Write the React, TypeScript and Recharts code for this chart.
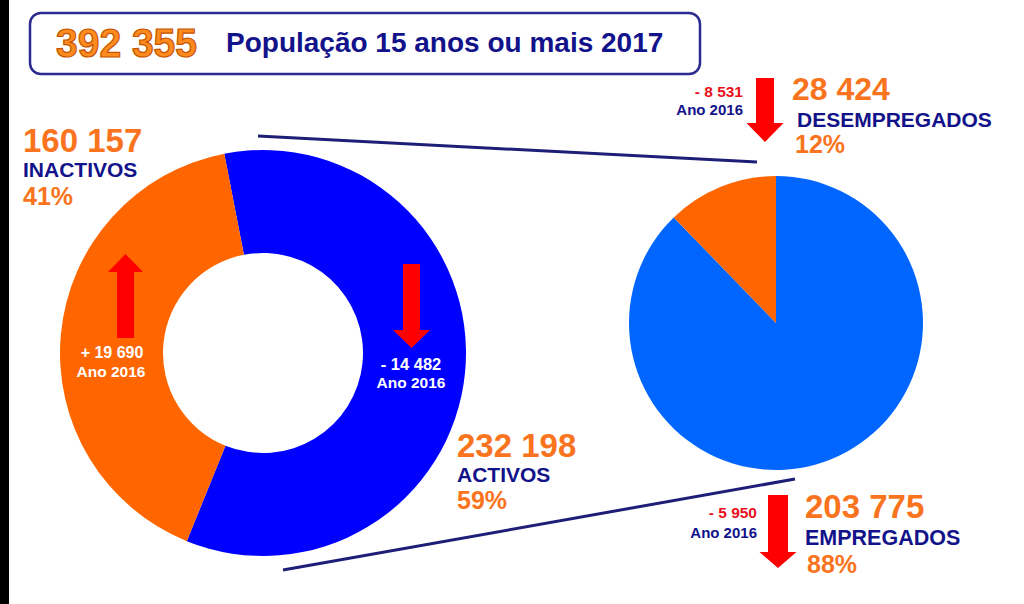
import React from 'react';
import { PieChart, Pie, Cell } from 'recharts';

const totalLabel = '392 355';
const titleText = 'População 15 anos ou mais 2017';

const popCategories = ['ACTIVOS', 'INACTIVOS'];
const popValues = [232198, 160157];
const popLabels = ['232 198', '160 157'];
const popPercents = ['59%', '41%'];
const popChanges = ['- 14 482', '+ 19 690'];

const actCategories = ['EMPREGADOS', 'DESEMPREGADOS'];
const actValues = [203775, 28424];
const actLabels = ['203 775', '28 424'];
const actPercents = ['88%', '12%'];
const actChanges = ['- 5 950', '- 8 531'];

const yearLabel = 'Ano 2016';

const popData = popCategories.map((name, i) => ({ name, value: popValues[i] }));
const actData = actCategories.map((name, i) => ({ name, value: actValues[i] }));

const popColors = ['#0000FF', '#FF6600'];
const actColors = ['#0066FF', '#FF6600'];

const FONT = '"Liberation Sans", Arial, sans-serif';
const NAVY = '#12128A';
const ORANGE = '#FA7420';
const RED = '#FF0000';

function downArrow(x: number, top: number, shaftW: number, headW: number, headTop: number, tip: number) {
  const l = x - shaftW / 2, r = x + shaftW / 2, hl = x - headW / 2, hr = x + headW / 2;
  return `${l},${top} ${r},${top} ${r},${headTop} ${hr},${headTop} ${x},${tip} ${hl},${headTop} ${l},${headTop}`;
}
function upArrow(x: number, bottom: number, shaftW: number, headW: number, headBase: number, tip: number) {
  const l = x - shaftW / 2, r = x + shaftW / 2, hl = x - headW / 2, hr = x + headW / 2;
  return `${l},${bottom} ${r},${bottom} ${r},${headBase} ${hr},${headBase} ${x},${tip} ${hl},${headBase} ${l},${headBase}`;
}

export default function App() {
  return (
    <div style={{ position: 'absolute', left: 0, top: 0, width: 1024, height: 604, background: '#fff', overflow: 'hidden' }}>
      <PieChart width={1024} height={604} margin={{ top: 0, right: 0, bottom: 0, left: 0 }}>
        <Pie
          data={popData}
          dataKey="value"
          nameKey="name"
          cx={263}
          cy={353}
          innerRadius={100}
          outerRadius={203}
          startAngle={101}
          endAngle={-259}
          stroke="none"
          isAnimationActive={false}
        >
          {popData.map((d, i) => (
            <Cell key={d.name} fill={popColors[i]} />
          ))}
        </Pie>
        <Pie
          data={actData}
          dataKey="value"
          nameKey="name"
          cx={776}
          cy={323}
          innerRadius={0}
          outerRadius={147}
          startAngle={90}
          endAngle={-270}
          stroke="none"
          isAnimationActive={false}
        >
          {actData.map((d, i) => (
            <Cell key={d.name} fill={actColors[i]} />
          ))}
        </Pie>
      </PieChart>
      <svg width={1024} height={604} style={{ position: 'absolute', left: 0, top: 0, pointerEvents: 'none' }}>
        <rect x={0} y={0} width={9} height={604} fill="#000" />
        {/* title box */}
        <rect x={30} y={13} width={670} height={61} rx={11} ry={11} fill="#fff" stroke="#2B2B8F" strokeWidth={2.5} />
        <text x={56} y={57} fontFamily={'"Liberation Sans Narrow", "Liberation Sans", Arial, sans-serif'} fontWeight="bold" fontSize={40}
          fill="#FF8A1E" stroke="#C45500" strokeWidth={1.2} textLength={141} lengthAdjust="spacingAndGlyphs">{totalLabel}</text>
        <text x={226} y={52} fontFamily={FONT} fontWeight="bold" fontSize={28} fill={NAVY}>{titleText}</text>

        {/* connector lines */}
        <line x1={258} y1={136} x2={757} y2={162} stroke="#1E1E78" strokeWidth={3} />
        <line x1={283} y1={570} x2={795} y2={479} stroke="#1E1E78" strokeWidth={3} />

        {/* Inactivos labels */}
        <text x={23} y={152} fontFamily={FONT} fontWeight="bold" fontSize={33} fill={ORANGE}>{popLabels[1]}</text>
        <text x={23} y={177} fontFamily={FONT} fontWeight="bold" fontSize={21} fill={NAVY}>{popCategories[1]}</text>
        <text x={23} y={205} fontFamily={FONT} fontWeight="bold" fontSize={25} fill={ORANGE}>{popPercents[1]}</text>

        {/* Activos labels */}
        <text x={457} y={457} fontFamily={FONT} fontWeight="bold" fontSize={33} fill={ORANGE}>{popLabels[0]}</text>
        <text x={457} y={482} fontFamily={FONT} fontWeight="bold" fontSize={21} fill={NAVY}>{popCategories[0]}</text>
        <text x={457} y={509} fontFamily={FONT} fontWeight="bold" fontSize={25} fill={ORANGE}>{popPercents[0]}</text>

        {/* Donut arrows and changes */}
        <polygon points={upArrow(125.5, 338, 17, 35, 272, 254)} fill={RED} />
        <text x={112} y={358} textAnchor="middle" fontFamily={FONT} fontWeight="bold" fontSize={16} fill="#fff">{popChanges[1]}</text>
        <text x={111} y={377} textAnchor="middle" fontFamily={FONT} fontWeight="bold" fontSize={15.5} fill="#fff">{yearLabel}</text>

        <polygon points={downArrow(411.5, 264, 17, 37, 330, 348)} fill={RED} />
        <text x={411} y={370} textAnchor="middle" fontFamily={FONT} fontWeight="bold" fontSize={16.5} fill="#fff">{popChanges[0]}</text>
        <text x={411} y={388} textAnchor="middle" fontFamily={FONT} fontWeight="bold" fontSize={15.5} fill="#fff">{yearLabel}</text>

        {/* Desempregados */}
        <polygon points={downArrow(765, 78, 18, 37, 123, 142)} fill={RED} />
        <text x={743} y={97} textAnchor="end" fontFamily={FONT} fontWeight="bold" fontSize={15.5} fill="#E8101A">{actChanges[1]}</text>
        <text x={743} y={115} textAnchor="end" fontFamily={FONT} fontWeight="bold" fontSize={15} fill={NAVY}>{yearLabel}</text>
        <text x={792} y={100} fontFamily={FONT} fontWeight="bold" fontSize={32} fill={ORANGE}>{actLabels[1]}</text>
        <text x={797} y={127} fontFamily={FONT} fontWeight="bold" fontSize={21} fill={NAVY}>{actCategories[1]}</text>
        <text x={795} y={153} fontFamily={FONT} fontWeight="bold" fontSize={25} fill={ORANGE}>{actPercents[1]}</text>

        {/* Empregados */}
        <polygon points={downArrow(778, 495, 20, 37, 552, 568)} fill={RED} />
        <text x={757} y={518} textAnchor="end" fontFamily={FONT} fontWeight="bold" fontSize={15.5} fill="#E8101A">{actChanges[0]}</text>
        <text x={757} y={538} textAnchor="end" fontFamily={FONT} fontWeight="bold" fontSize={15} fill={NAVY}>{yearLabel}</text>
        <text x={805} y={518} fontFamily={FONT} fontWeight="bold" fontSize={33} fill={ORANGE}>{actLabels[0]}</text>
        <text x={805} y={545} fontFamily={FONT} fontWeight="bold" fontSize={21.5} fill={NAVY}>{actCategories[0]}</text>
        <text x={807} y={573} fontFamily={FONT} fontWeight="bold" fontSize={25} fill={ORANGE}>{actPercents[0]}</text>
      </svg>
    </div>
  );
}
